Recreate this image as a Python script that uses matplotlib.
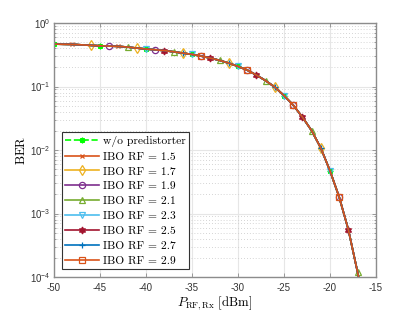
import numpy as np
import matplotlib
matplotlib.use('Agg')
import matplotlib.pyplot as plt
from matplotlib.ticker import LogLocator, NullFormatter, FixedLocator

plt.rcParams['font.family'] = 'Liberation Sans'
plt.rcParams['mathtext.fontset'] = 'custom'
plt.rcParams['mathtext.rm'] = 'Liberation Sans'
plt.rcParams['mathtext.it'] = 'Liberation Sans:italic'
plt.rcParams['axes.unicode_minus'] = False

# received RF power [dBm] and BER
p_rx = [-50, -49, -48, -47, -46, -45, -44, -43, -42, -41, -40, -39, -38, -37, -36,
        -35, -34, -33, -32, -31, -30, -29, -28, -27, -26, -25, -24, -23, -22, -21,
        -20, -19, -18, -17, -16]
ber = [0.467, 0.464, 0.462, 0.454, 0.446, 0.439, 0.434, 0.430, 0.419, 0.404,
       0.390, 0.380, 0.369, 0.353, 0.337, 0.321, 0.302, 0.281, 0.259, 0.234,
       0.208, 0.182, 0.152, 0.124, 0.0982, 0.0722, 0.0511, 0.0331, 0.0203, 0.0108,
       0.00472, 0.00182, 0.000556, 0.000119, 0.0000245]

labels = ['w/o predistorter', 'IBO RF = 1.5', 'IBO RF = 1.7', 'IBO RF = 1.9',
          'IBO RF = 2.1', 'IBO RF = 2.3', 'IBO RF = 2.5', 'IBO RF = 2.7', 'IBO RF = 2.9']
colors = ['#00ff00', '#D95319', '#EDB120', '#7E2F8E', '#77AC30', '#4DBEEE',
          '#A2142F', '#0072BD', '#D95319']
markers = [(8, 2, 0), 'x', 'd', 'o', '^', 'v', (6, 1, 0), '+', 's']
filled = [False, False, False, False, False, False, True, False, False]
msizes = [4, 3.5, 5, 4.5, 5, 5, 5, 5, 4]

fig = plt.figure(figsize=(4.15, 3.12), dpi=100)
ax = fig.add_axes([0.130, 0.112, 0.776, 0.814])

for i in range(len(labels)):
    ls = '--' if i == 0 else '-'
    mfc = colors[i] if filled[i] else 'none'
    ax.semilogy(p_rx, ber, ls, color=colors[i], lw=1.2, marker=markers[i],
                markersize=msizes[i], markerfacecolor=mfc, markeredgecolor=colors[i],
                markeredgewidth=0.9, markevery=(2 * i, 5), label=labels[i])

ax.set_xlim(-50, -15)
ax.set_ylim(1e-4, 1)
ax.xaxis.set_major_locator(FixedLocator(np.arange(-50, -14, 5)))
ax.yaxis.set_major_locator(LogLocator(base=10, numticks=10))
ax.yaxis.set_minor_locator(LogLocator(base=10, subs=np.arange(2, 10), numticks=50))
ax.yaxis.set_minor_formatter(NullFormatter())

ax.grid(True, which='major', color='0.9', lw=0.8)
ax.grid(True, which='minor', axis='y', color='0.78', lw=0.6, ls=(0, (1, 2.5)))
ax.set_axisbelow(True)

for s in ax.spines.values():
    s.set_color('0.55')
    s.set_linewidth(1.0)
ax.tick_params(which='both', direction='in', top=True, right=True, colors='0.55',
               labelcolor='0.2', labelsize=7, width=0.6, pad=2.5)
ax.tick_params(axis='x', which='major', pad=4)
ax.tick_params(which='major', length=3)
ax.tick_params(which='minor', length=1.5)

ax.set_xlabel(r'$P_{\mathrm{RF,Rx}}\ [\mathrm{dBm}]$', fontsize=9.3,
              math_fontfamily='cm', labelpad=1.2)
ax.set_ylabel(r'$\mathrm{BER}$', fontsize=9.3, math_fontfamily='cm', labelpad=1)

leg = ax.legend(loc='lower left', bbox_to_anchor=(0.025, 0.03),
                prop={'family': 'cmr10', 'size': 8.3},
                handlelength=2.9, handletextpad=0.35, labelspacing=0.42,
                borderpad=0.3, borderaxespad=0.0, fancybox=False, framealpha=1)
leg.get_frame().set_edgecolor('0.2')
leg.get_frame().set_linewidth(0.8)

fig.savefig('out.png', dpi=100)
